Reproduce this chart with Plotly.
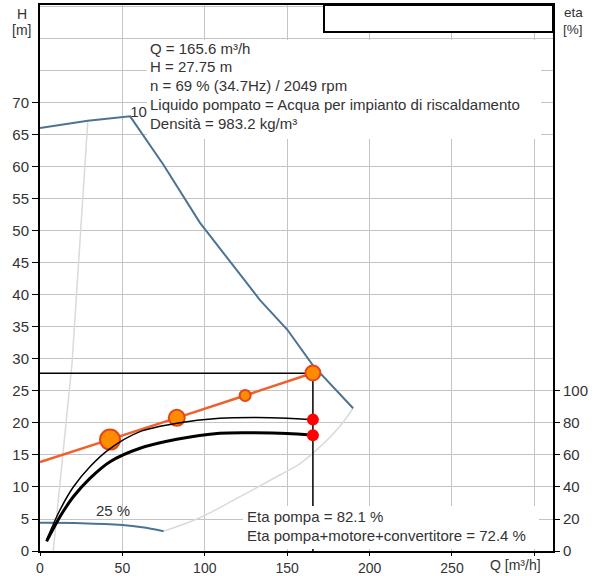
import plotly.graph_objects as go

# ---------------- data ----------------
# 100 % speed head curve
q_h100 = [0, 29, 54.7, 75, 97, 133.5, 150, 165.6, 190]
h_h100 = [66.1, 67.2, 67.9, 60.3, 51.3, 39.2, 34.6, 29.0, 22.3]
# 25 % speed head curve
q_h25 = [0, 25, 50, 62, 75]
h_h25 = [4.4, 4.35, 4.05, 3.7, 3.1]
# light boundary curves
q_left = [8, 19.5, 29]
h_left = [0, 29.5, 67.2]
q_right = [75, 97, 120, 145, 158, 170, 182, 190]
h_right = [3.1, 5.2, 8.3, 11.8, 13.7, 16.3, 19.5, 22.3]
# efficiency curves (right axis, %)
q_eta = [4, 12.1, 20.2, 30.3, 42.5, 60.7, 83, 109, 130, 150, 165.6]
eta_p = [7, 25.6, 40, 52.7, 64, 74.6, 79.8, 82.9, 83.4, 83.0, 82.1]
eta_t = [6, 21.4, 33.9, 45.4, 55.8, 64.2, 69.8, 73.6, 73.9, 73.5, 72.4]
# orange line (system curve) with markers
q_sys = [0, 42.5, 83, 124.5, 165.6]
h_sys = [13.9, 17.4, 20.8, 24.3, 27.8]
# operating point
Q_OP = 165.6
H_OP = 27.75
ETA_PUMP = 82.1
ETA_TOTAL = 72.4

x_ticks = [0, 50, 100, 150, 200, 250, 300]
x_ticktext = ["0", "50", "100", "150", "200", "250", ""]
y_ticks = [0, 5, 10, 15, 20, 25, 30, 35, 40, 45, 50, 55, 60, 65, 70]
y2_ticks = [0, 20, 40, 60, 80, 100]

# ---------------- layout helpers ----------------
L, R, T, B = 40, 553, 5, 551
W, H = 597, 576
def px(x):
    return (x - L) / (R - L)
def py(y):
    return (B - y) / (B - T)

X_MAX = 311.3
Y_MAX = 85.3
FONT = "Liberation Sans, Arial, sans-serif"
FS = 15
TXT = "#333333"
BLUE = "#4d7394"
LIGHT = "#dadada"
ORANGE = "#f0602a"
GRID = "#c4c4c4"

fig = go.Figure()

fig.add_trace(go.Scatter(x=q_left, y=h_left, mode="lines",
                         line=dict(color=LIGHT, width=1.5), hoverinfo="skip"))
fig.add_trace(go.Scatter(x=q_right, y=h_right, mode="lines",
                         line=dict(color=LIGHT, width=1.5, shape="spline"), hoverinfo="skip"))
fig.add_trace(go.Scatter(x=q_h100, y=h_h100, mode="lines",
                         line=dict(color=BLUE, width=2)))
fig.add_trace(go.Scatter(x=q_h25, y=h_h25, mode="lines",
                         line=dict(color=BLUE, width=2, shape="spline")))
fig.add_trace(go.Scatter(x=[q_h100[2]], y=[h_h100[2] + 0.5], mode="text",
                         text=["10"], textposition="middle right",
                         textfont=dict(family=FONT, size=FS, color=TXT)))
fig.add_trace(go.Scatter(x=q_eta, y=eta_p, mode="lines", yaxis="y2",
                         line=dict(color="black", width=1.5, shape="spline", smoothing=0.8)))
fig.add_trace(go.Scatter(x=q_eta, y=eta_t, mode="lines", yaxis="y2",
                         line=dict(color="black", width=3, shape="spline", smoothing=0.8)))
fig.add_trace(go.Scatter(x=[0, Q_OP, Q_OP], y=[H_OP, H_OP, 0], mode="lines",
                         line=dict(color="black", width=1.5)))
fig.add_trace(go.Scatter(x=q_sys, y=h_sys, mode="lines",
                         line=dict(color=ORANGE, width=2.5)))
fig.add_trace(go.Scatter(x=q_sys[1:], y=h_sys[1:], mode="markers",
                         marker=dict(size=[20, 16, 11, 15], color="#ff8c00", opacity=1,
                                     line=dict(color="#e4461c", width=2))))
fig.add_trace(go.Scatter(x=[Q_OP, Q_OP], y=[ETA_PUMP, ETA_TOTAL], mode="markers",
                         yaxis="y2", marker=dict(size=12, color="#ff0000", opacity=1)))

annotations = []
def ann(text, x, y, xanchor="left", size=FS, yanchor="middle"):
    annotations.append(dict(text=text, x=px(x), y=py(y), xref="paper", yref="paper",
                            xanchor=xanchor, yanchor=yanchor, showarrow=False,
                            font=dict(family=FONT, size=size, color=TXT)))

top_lines = [
    "Q = 165.6 m³/h",
    "H = 27.75 m",
    "n = 69 % (34.7Hz) / 2049 rpm",
    "Liquido pompato = Acqua per impianto di riscaldamento",
    "Densità = 983.2 kg/m³",
]
for i, t in enumerate(top_lines):
    ann(t, 148, 48 + i * 18.8)
ann("Eta pompa = 82.1 %", 245, 516)
ann("Eta pompa+motore+convertitore = 72.4 %", 245, 535)
ann("25 %", 113, 510, xanchor="center")
ann("Q [m³/h]", 543, 565, xanchor="right", size=14)
ann("H", 22, 14, xanchor="center", size=14)
ann("[m]", 21, 30, xanchor="center", size=14)
ann("eta", 573, 13, xanchor="center", size=13.5)
ann("[%]", 573, 30, xanchor="center", size=13.5)

shapes = [
    dict(type="rect", xref="paper", yref="paper", x0=px(147), x1=px(541), y0=py(139), y1=py(40),
         fillcolor="white", line=dict(width=0), layer="above"),
    dict(type="rect", xref="paper", yref="paper", x0=px(243), x1=px(539), y0=py(549), y1=py(506),
         fillcolor="white", line=dict(width=0), layer="above"),
    dict(type="rect", xref="paper", yref="paper", x0=px(324), x1=1, y0=py(32), y1=1,
         fillcolor="white", line=dict(color="black", width=2), layer="above"),
]

fig.update_layout(
    width=W, height=H,
    margin=dict(l=L, r=W - R, t=T, b=H - B, autoexpand=False),
    paper_bgcolor="white", plot_bgcolor="white",
    showlegend=False,
    font=dict(family=FONT, size=FS, color=TXT),
    annotations=annotations, shapes=shapes,
    xaxis=dict(range=[0, X_MAX], tickvals=x_ticks, ticktext=x_ticktext, automargin=False,
               showgrid=True, gridcolor=GRID, gridwidth=1,
               ticks="outside", ticklen=3, tickcolor="black", tickwidth=1,
               showline=True, linecolor="black", linewidth=2, mirror=True,
               zeroline=False, tickfont=dict(family=FONT, size=14, color=TXT)),
    yaxis=dict(range=[0, Y_MAX], tickvals=y_ticks, automargin=False,
               showgrid=True, gridcolor=GRID, gridwidth=1,
               minor=dict(tick0=0, dtick=5, showgrid=True, gridcolor=GRID,
                          gridwidth=1, ticks=""),
               ticks="outside", ticklen=6, tickcolor="black", tickwidth=1,
               showline=True, linecolor="black", linewidth=2, mirror=True,
               zeroline=False, tickfont=dict(family=FONT, size=FS, color=TXT)),
    yaxis2=dict(range=[0, Y_MAX * 4], tickvals=y2_ticks, overlaying="y", side="right",
                anchor="x", showgrid=False, zeroline=False, automargin=False,
                ticks="outside", ticklen=5, tickcolor="black", tickwidth=1,
                showline=True, linecolor="black", linewidth=2,
                tickfont=dict(family=FONT, size=FS, color=TXT)),
)

fig.write_html("out.html")
